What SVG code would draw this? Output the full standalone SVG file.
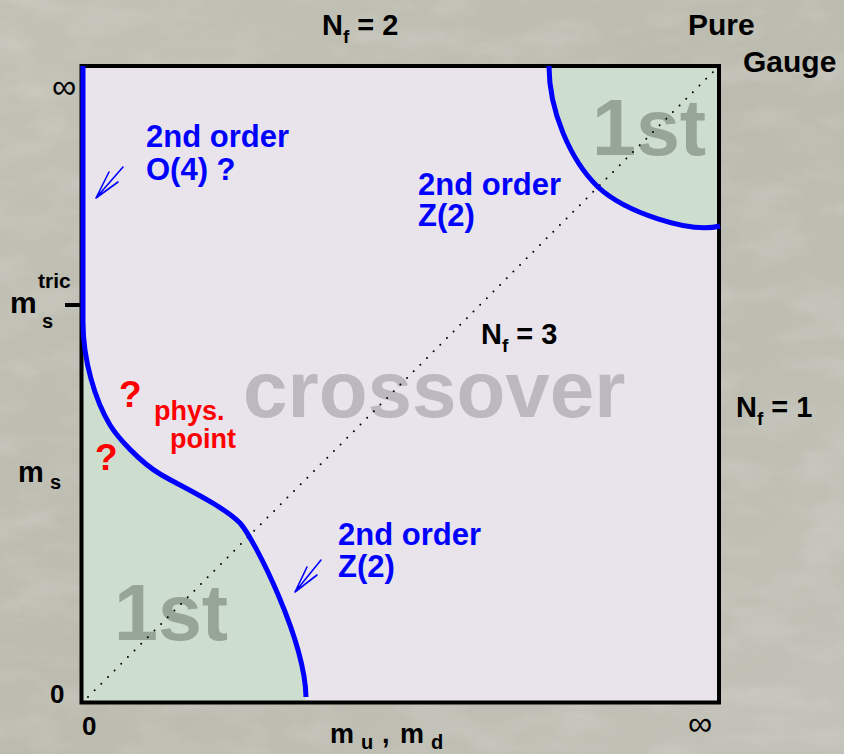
<svg xmlns="http://www.w3.org/2000/svg" width="844" height="754" viewBox="0 0 844 754">
<defs>
<linearGradient id="bg" x1="0" y1="0" x2="1" y2="1">
<stop offset="0" stop-color="#c2c1b6"/>
<stop offset="0.5" stop-color="#bcbbb0"/>
<stop offset="1" stop-color="#c3c2b8"/>
</linearGradient>
<filter id="stone" x="0" y="0" width="100%" height="100%">
<feTurbulence type="fractalNoise" baseFrequency="0.015 0.035" numOctaves="4" seed="7" result="n"/>
<feColorMatrix in="n" type="matrix" values="0 0 0 0 1  0 0 0 0 1  0 0 0 0 0.97  0 0 0 1.4 -0.6"/>
</filter>
<style>
.lbl{font-family:"Liberation Sans",Arial,Helvetica,sans-serif;font-weight:bold;fill:#000}
.blue{font-family:"Liberation Sans",Arial,Helvetica,sans-serif;font-weight:bold;fill:#0000ff;font-size:31px}
.red{font-family:"Liberation Sans",Arial,Helvetica,sans-serif;font-weight:bold;fill:#ff0000}
.big1{font-family:"Liberation Sans",Arial,Helvetica,sans-serif;font-weight:bold;fill:#97a597;font-size:79px}
.cross{font-family:"Liberation Sans",Arial,Helvetica,sans-serif;font-weight:bold;fill:#bdb7c0;font-size:80px}
.inf{font-family:"Liberation Sans",Arial,Helvetica,sans-serif;font-weight:normal;fill:#000;font-size:34px}
.line{fill:none;stroke:#0000ff;stroke-width:5;stroke-linejoin:round}
.arr{fill:none;stroke:#0000ff;stroke-width:1.6;stroke-linecap:round}
</style>
</defs>
<g id="background">
<rect width="844" height="754" fill="url(#bg)"/>
<rect width="844" height="754" filter="url(#stone)" opacity="0.22"/>
</g>
<g id="plot">
<rect id="area" x="81.5" y="66" width="637.5" height="636.5" fill="#e9e3ec"/>
<path id="first-order-low" d="M83 322 C83 360 95 400 110 425 C118 438 140 462 160 474 C180 486 222 505 240 523 C255 540 305 640 306 702 L82 702 L82 322 Z" fill="#cedece"/>
<path id="first-order-high" d="M549 66 C549 110 570 160 598 187 C625 212 690 234 720 226 L720 66 Z" fill="#cedece"/>
<text class="big1" x="114" y="640">1st</text>
<text class="big1" x="592" y="155">1st</text>
<text class="cross" x="243" y="417">crossover</text>
<line id="diagonal" x1="88" y1="697" x2="714" y2="71" stroke="#000" stroke-width="2" stroke-linecap="round" stroke-dasharray="0 9.4"/>
<rect id="frame" x="81.5" y="66" width="637.5" height="636.5" fill="none" stroke="#000" stroke-width="4"/>
<line id="tick" x1="65" y1="305" x2="81" y2="305" stroke="#000" stroke-width="4"/>
<path id="boundary-low" class="line" d="M83 66 L83 322 C83 360 95 400 110 425 C118 438 140 462 160 474 C180 486 222 505 240 523 C255 540 305 640 306 697"/>
<path id="boundary-high" class="line" d="M549 66 C549 110 570 160 598 187 C625 212 690 234 720 226"/>
</g>
<g id="connectors">
<path class="arr" d="M123 167 L96 198 L109 172 M96 198 L118 182"/>
<path class="arr" d="M321 560 L295 592 L307 567 M295 592 L317 575"/>
</g>
<g id="labels">
<text class="lbl" x="322" y="35" font-size="29">N<tspan font-size="19" dy="8">f</tspan><tspan dy="-8"> = 2</tspan></text>
<text class="lbl" x="481" y="344" font-size="29">N<tspan font-size="19" dy="8">f</tspan><tspan dy="-8"> = 3</tspan></text>
<text class="lbl" x="736" y="417" font-size="29">N<tspan font-size="19" dy="8">f</tspan><tspan dy="-8"> = 1</tspan></text>
<text class="lbl" x="688" y="35" font-size="30">Pure</text>
<text class="lbl" x="743" y="72" font-size="30">Gauge</text>
<text class="inf" x="52" y="98">∞</text>
<text class="inf" x="688" y="735">∞</text>
<text class="lbl" x="50" y="703" font-size="26">0</text>
<text class="lbl" x="82" y="735" font-size="26">0</text>
<text class="lbl" font-size="27"><tspan x="330" y="743">m</tspan><tspan x="361" y="749" font-size="20">u</tspan><tspan x="382" y="743">,</tspan><tspan x="400" y="743">m</tspan><tspan x="431" y="749" font-size="20">d</tspan></text>
<text class="lbl" font-size="30"><tspan x="10" y="313">m</tspan><tspan x="38" y="288" font-size="21">tric</tspan><tspan x="42" y="328" font-size="20">s</tspan></text>
<text class="lbl" font-size="29"><tspan x="18" y="482">m</tspan><tspan x="50" y="489" font-size="20">s</tspan></text>
<text class="blue" x="146" y="147">2nd order</text>
<text class="blue" x="146" y="180">O(4) ?</text>
<text class="blue" x="418" y="195">2nd order</text>
<text class="blue" x="418" y="226">Z(2)</text>
<text class="blue" x="338" y="545">2nd order</text>
<text class="blue" x="338" y="577">Z(2)</text>
<text class="red" x="119" y="407" font-size="37">?</text>
<text class="red" x="95" y="470" font-size="37">?</text>
<text class="red" x="154" y="420" font-size="27">phys.</text>
<text class="red" x="170" y="448" font-size="27">point</text>
</g>
</svg>
